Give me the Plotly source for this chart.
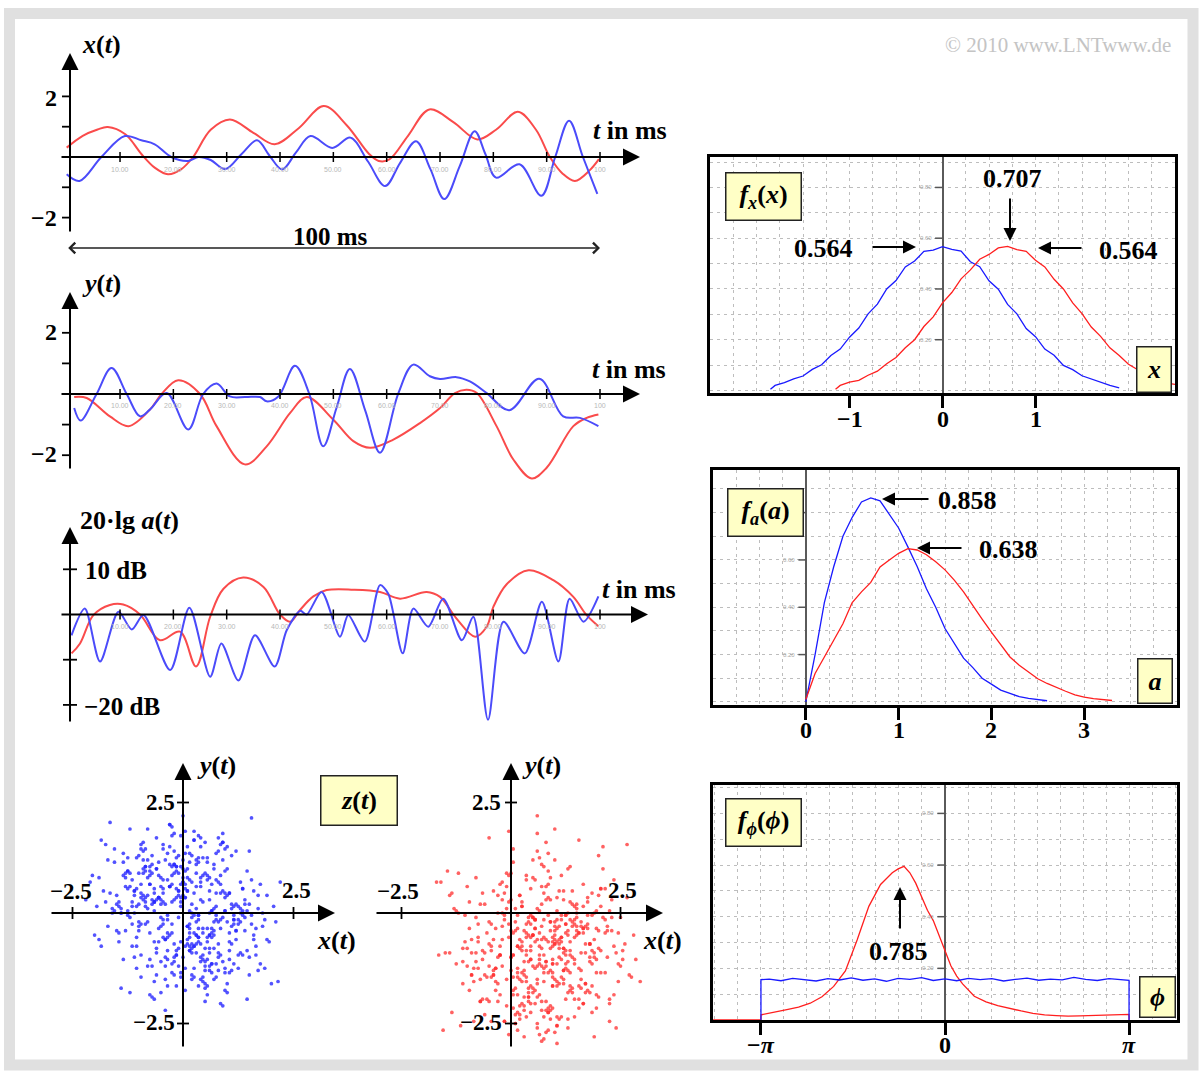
import plotly.graph_objects as go

W, H = 1202, 1072
FONT = "Liberation Serif"
BLUE_L = "rgb(75,75,250)"
RED_L = "rgb(250,75,75)"
BLUE = "rgb(25,25,255)"
RED = "rgb(255,30,30)"
GRID = "#bdbdbd"
DASH = "3px,4px"

# ---------------- data ----------------
# x(t): real part, time in ms
xt_blue_t = [0, 2.4, 6.5, 10.9, 14, 16.5, 19.6, 22.8, 24.7, 27, 29.7, 32.8, 35.7, 38, 40.4, 43, 45.7,
             49.8, 53.2, 56.5, 59.7, 62.5, 65.5, 68.2, 70.8, 73.7, 76.5, 78.5, 80.5, 84.9, 89, 91.6,
             94.2, 96.8, 99.5]
xt_blue_v = [-0.57, -0.79, 0, 0.69, 0.55, 0.42, 0, -0.13, 0, -0.1, -0.4, 0.1, 0.55, 0.05, -0.41, 0.15,
             0.69, 0.3, 0.64, -0.15, -0.96, -0.2, 0.52, -0.4, -1.39, -0.3, 0.85, 0.1, -0.68, -0.24,
             -1.28, 0, 1.2, 0, -1.22]
xt_red_t = [0, 3, 5.8, 7.7, 11, 14, 16.5, 19, 21.5, 23.7, 27, 30.6, 35, 39, 43.5, 48.2, 52.5, 56.7,
            58.5, 60.5, 64, 68, 72.5, 77, 80.5, 84.6, 88, 90.6, 93, 95.3, 98, 99.8]
xt_red_v = [0.31, 0.7, 0.91, 0.99, 0.75, 0.1, -0.35, -0.57, -0.4, 0, 0.9, 1.24, 0.8, 0.42, 0.95, 1.68,
            1.05, 0.1, -0.13, -0.08, 0.7, 1.57, 1.15, 0.58, 0.9, 1.49, 0.9, 0, -0.55, -0.79, -0.45, -0.07]

# y(t): imaginary part
yt_blue_t = [1.4, 2.6, 5.6, 8.4, 11.25, 13.75, 15.6, 18.75, 22.8, 25.6, 28.1, 30.6, 33.5, 36.25, 37.5,
             39.7, 42.8, 45.5, 48.1, 50.6, 53.1, 56, 58.75, 62.2, 65, 68.1, 70, 73.1, 75.6, 78.75, 83,
             88.6, 93.1, 96.25, 99.7]
yt_blue_v = [-0.46, -0.87, 0, 0.85, 0, -0.73, -0.51, 0.03, -1.16, 0, 0.34, -0.08, -0.1, -0.1, -0.24,
             -0.08, 0.92, 0, -1.71, -0.45, 0.82, -0.55, -1.92, 0.03, 0.96, 0.58, 0.49, 0.55, 0.41, 0.03,
             -0.53, 0.5, -0.73, -0.78, -1.05]
yt_red_t = [1.4, 3.75, 8.1, 11.6, 15.6, 17.8, 20.9, 25, 28.1, 33.4, 37.5, 41.9, 45, 50, 53.75, 56.9,
            61.25, 66.25, 70, 72.8, 75, 76.9, 80.6, 83.75, 87.2, 90, 95, 97.5, 99.7]
yt_red_v = [-0.1, -0.13, -0.73, -1.05, -0.51, 0, 0.45, 0, -1.05, -2.3, -1.71, -0.62, -0.1, -0.84, -1.54,
            -1.76, -1.49, -0.95, -0.46, 0.03, 0.14, 0.03, -1.05, -2.14, -2.76, -2.41, -1.05, -0.78, -0.67]

# 20 lg a(t) in dB
db_blue_t = [0.9, 3.4, 6.25, 9.7, 12.2, 14.4, 19.4, 23, 26.9, 29, 32.2, 35.3, 39, 41.25, 43.8, 45,
             47.8, 51.25, 52.8, 55.9, 58.75, 60.3, 63, 65, 67.8, 70.6, 74.1, 76.25, 79, 81.9, 85.9,
             89.1, 92.2, 94.3, 96.9, 99.7]
db_blue_v = [-4.6, 1.3, -10.4, 0.6, -3.3, -0.1, -12.3, 1.5, -13.75, -6.4, -14.6, -4.6, -11.5, -3.5,
             0.8, 0.0, 5.0, -4.9, -0.1, -6.0, 6.5, 4.6, -8.6, 1.3, -2.7, 3.5, -5.7, -0.5, -23.3, -1.6,
             -8.6, 2.8, -10.4, 3.5, -1.6, 4.0]
db_red_t = [0.9, 2.5, 5, 8.1, 10.6, 13.75, 17.5, 21.25, 24.25, 26.9, 29.4, 33.1, 36.9, 40, 41.9, 43.75,
            46.25, 48.75, 53.75, 58.75, 62.5, 67.5, 70, 73.1, 76.6, 78.75, 80, 82.5, 86.6, 91.25, 95,
            97.5, 99.7]
db_red_v = [-8.6, -6.4, -0.15, 2.1, 2.2, 0, -5.7, -3.8, -11.5, -0.5, 5.7, 8.2, 6.1, 0, -1.6, 1, 4.0, 5.4,
            5.5, 5.0, 3.5, 5, 3.9, -0.9, -4.9, -2.7, 1.7, 6.7, 9.8, 7.6, 3.9, -0.15, -2.6]

# scatter clouds z(t) = x(t) + j y(t)
cloud_blue_x = [
    0.3, -0.8, 1.1, -0.2, 0.6, -1.4, 0.1, 0.9, -0.5, 1.7, -1.0, 0.4, -0.1, 0.8, -0.7, 0.2, 1.3, -0.3, -1.9, 0.5,
    0.0, -0.6, 1.0, -1.2, 0.7, 0.3, -0.4, 1.5, -0.9, 0.2, -0.2, 1.2, -1.6, 0.6, -0.1, 0.9, -0.8, 0.4, 2.1, -0.5,
    0.8, -1.1, 0.1, -0.3, 1.4, -0.7, 0.5, -1.3, 0.0, 0.7, -0.4, 1.8, -0.9, 0.2, -0.6, 1.1, -0.2, 0.3, -1.5, 0.9,
    0.6, -0.1, -1.0, 1.3, 0.4, -0.8, 0.1, -2.2, 0.5, 1.0, -0.3, 0.7, -1.2, 0.2, 1.6, -0.5, -0.7, 0.8, 0.0, -1.4,
    1.2, -0.2, 0.4, -0.9, 0.6, 1.9, -0.4, -1.1, 0.3, -0.1, 0.9, -0.6, 1.4, -1.7, 0.1, 0.5, -0.3, 0.8, -0.8, 1.1,
    -0.5, 0.2, -1.3, 0.7, 1.5, -0.2, 0.4, -1.0, 0.0, 0.6, -1.8, 1.0, -0.4, 0.3, -0.7, 1.3, 0.1, -0.9, 2.0, -0.1,
    0.5, -1.2, 0.8, -0.6, 0.2, 1.7, -0.3, -1.5, 0.9, 0.4, -0.8, 0.1, 1.2, -0.2, -1.1, 0.6, -0.5, 1.4, 0.3, -2.0,
    0.7, -0.4, 0.0, 1.1, -0.9, 0.5, -1.6, 0.2, 0.8, -0.3, 1.6, -0.7, 0.4, -1.0, 0.1, 1.0, -0.1, -1.4, 0.6, 0.3,
    -0.6, 1.3, -0.2, 0.9, -1.3, 0.0, 2.2, -0.8, 0.5, -0.4, 0.2, -1.1, 1.5, -0.5, 0.7, -1.9, 0.3, 1.2, -0.2, -0.7,
    1.0, 0.1, -1.2, 0.6, -0.3, 1.8, -1.0, 0.4, -0.1, 0.8, -1.5, 0.5, 0.9, -0.6, 1.4, -0.4, 0.2, -0.9, 1.1, 0.0,
    -0.2, 0.7, -1.7, 1.3, -0.5, 0.3, -0.8, 0.6, 1.9, -1.1, 0.4, -0.3, 1.0, -1.4, 0.1, 0.8, -0.6, 1.6, -0.1, -1.0,
    0.5, 1.2, -0.7, 0.2, -1.3, 0.9, -0.4, 0.0, 1.5, -2.1, 0.3, -0.5, 1.1, -0.9, 0.7, -0.2, 1.7, -1.2, 0.4, 0.6,
    0.45, -0.25, 1.05, -0.65, 0.15, -1.15, 0.85, -0.35, 0.55, -0.95, 1.25, -0.05, -0.75, 0.35, -1.45, 0.65, 0.05, -0.55, 1.55, -0.15,
    -0.85, 0.25, 0.95, -1.25, 0.75, -0.45, 0.15, 1.35, -0.65, -0.05, 0.55, -1.05, 0.35, 1.75, -0.25, -0.85, 0.45, -1.65, 0.05, 0.95,
    -0.35, 1.15, -0.95, 0.25, 0.65, -0.15, -1.35, 0.85, -0.55, 1.45, 0.15, -0.75, 1.05, -0.25, -1.85, 0.55, 0.35, -0.45, 1.25, -1.05,
    -0.15, 0.75, -0.65, 1.65, 0.05, -1.25, 0.45, -0.35, 0.95, -0.85, 1.15, -0.55, 0.25, -1.55, 0.65, -0.05, 1.85, -0.75, 0.35, -0.25,
    -1.15, 0.85, -0.45, 0.15, 1.35, -0.95, 0.55, -0.15, -0.65, 1.05, 0.25, -1.35, 0.75, -0.35, 0.05, 1.55, -0.85, 0.45, -1.05, 0.65,
    -0.55, 0.15, 1.25, -1.75, 0.95, -0.25, 0.35, -0.75, 1.45, -0.05, 0.85, -1.25, -0.15, 0.55, -0.45, 1.15, -0.95, 0.25, 2.05, -0.65,
    -0.35, 0.65, -1.45, 0.05, 1.05, -0.85, 0.45, -0.15, -1.15, 0.75, 1.65, -0.55, 0.35, -0.25, 0.95, -1.95, 0.15, 0.85, -0.75, 1.35,
    -0.05, -1.05, 0.55, 1.15, -0.35, 0.25, -1.55, 0.65, -0.45, 0.05, 0.45, 1.45, -0.65, -1.25, 0.15, 0.75, -0.15, 1.95, -0.95, 0.35,
    -0.75, 0.95, 0.05, -0.45, 1.25, -1.35, 0.55, -0.25, 0.85, -1.65, 0.25, -0.05, 1.05, -0.85, 0.65, -1.15, 0.35, 1.55, -0.55, -0.15,
    1.35, -0.35, -0.95, 0.45, 0.05, -1.45, 0.95, -0.65, 0.15, 1.75, -1.05, 0.55, -0.25, 0.75, -1.85, 0.25, 1.15, -0.45, -0.05, 0.85,
    -0.65, 1.25, 0.35, -1.25, 0.55, -0.15, 0.95, -0.85, 1.65, -0.35, 0.15, -1.55, 0.65, 0.05, -0.75, 1.45, -0.45, 0.25, -1.05, 0.45,
    2.15, -0.25, 0.75, -0.95, 0.35, -1.35, 1.05, -0.05, -0.55, 0.85, -0.15, 0.45, -1.75, 1.35, -0.65, 0.15, 0.95, -1.15, 0.55, -0.35,
    1.15, -0.85, 0.25, -0.45, 1.85, -0.05, -1.25, 0.65, -0.75, 0.05, -0.25, 1.55, -1.45, 0.35, 0.75, -0.55, 0.15, -2.05, 1.05, -0.95]
cloud_blue_y = [
    -0.5, 1.2, 0.2, -1.1, 0.8, 0.0, -0.7, 1.6, -0.3, 0.4, 0.9, -1.5, 0.5, -0.2, 1.3, -0.9, 0.1, 2.0, -0.6, -1.2,
    0.7, 0.3, -1.8, 0.6, -0.4, 1.1, -1.0, 0.2, 0.9, -0.1, 1.4, -0.6, 0.0, -1.3, 0.5, -2.1, 0.8, 1.7, -0.2, 0.3,
    -1.0, 0.4, 1.5, -0.5, -0.1, 0.9, -1.6, 0.6, 1.0, -0.8, 0.2, -0.3, 1.2, 0.7, -1.4, 0.1, 1.8, -0.7, 0.4, -1.1,
    -0.9, 1.3, -0.4, 0.0, 0.8, -1.2, 0.5, 0.3, -1.7, 1.0, 0.6, -0.2, 1.9, -0.8, -0.5, 0.2, 1.1, -1.3, 0.7, 0.1,
    -0.4, 0.9, -1.0, 1.4, 0.3, -0.6, -1.5, 0.5, 1.2, -0.1, 1.6, -0.9, 0.2, -0.3, 1.0, -2.0, 0.6, -0.7, 0.4, 1.3,
    -1.1, 0.0, 0.8, -0.5, -1.4, 1.1, 0.3, -0.2, 2.2, -0.8, 0.5, 1.5, -0.6, 0.1, -1.2, 0.7, -0.3, 1.0, -1.6, 0.4,
    0.9, -0.1, -0.9, 1.7, 0.2, -1.3, 0.6, -0.4, 1.2, -0.7, -0.2, 0.8, 1.4, -1.0, 0.0, 0.5, -1.8, 0.3, 0.9, -0.5,
    1.1, -1.2, 0.4, -0.3, 1.6, -0.8, 0.1, -1.4, 0.7, 2.0, -0.6, 0.2, -1.1, 1.3, 0.5, -0.2, 0.9, -1.7, 0.0, 0.6,
    1.0, -0.9, 0.3, 1.8, -0.4, -1.0, 0.7, 0.1, -1.3, 1.2, -0.7, 0.5, 1.4, -0.1, -1.5, 0.8, -0.5, 0.2, 1.1, -1.9,
    0.4, -0.6, 0.9, -1.2, 1.5, 0.0, -0.3, 0.6, -0.8, 1.7, 0.2, -1.1, 0.5, 1.0, -0.4, -2.2, 1.3, 0.3, -0.7, 0.8,
    -1.4, 0.1, 1.2, -0.2, 0.6, -0.9, 1.9, -0.5, 0.4, -1.0, 0.7, 1.1, -1.6, 0.0, -0.3, 1.4, -0.8, 0.5, -1.2, 0.2,
    1.6, -0.4, 0.3, -1.5, 0.9, -0.1, -0.6, 1.2, -1.0, 0.7, -0.2, 0.8, -1.3, 0.4, 1.0, -0.7, 0.1, -1.8, 1.5, -0.5,
    0.85, -0.45, -1.35, 0.25, 1.15, -0.75, 0.45, -0.05, -1.05, 1.55, -0.25, 0.65, 1.05, -1.65, 0.15, -0.55, 1.85, -0.35, 0.75, -0.95,
    0.35, -1.25, 0.05, 0.95, -0.15, 1.45, -0.85, 0.55, -1.55, 0.25, -0.65, 1.25, -0.05, -1.15, 0.85, 0.15, -0.45, 2.05, -0.75, 0.45,
    1.35, -0.25, 0.65, -1.45, 0.05, -0.85, 1.15, -0.15, 0.35, -1.95, -0.55, 0.95, -1.05, 0.25, 1.65, -0.35, -0.65, 0.75, -1.25, 0.15,
    1.05, -0.05, 0.45, -0.95, -1.75, 0.55, 1.25, -0.45, 0.05, -0.25, -1.15, 0.35, -0.75, 1.45, 0.65, -1.35, -0.15, 0.85, -0.55, 1.75,
    0.15, -0.95, 1.55, -0.35, -0.05, 0.45, -1.65, 1.05, 0.25, -0.65, -0.45, 1.35, 0.75, -1.05, 0.35, -0.25, 0.95, -1.45, 0.55, 0.05,
    1.15, -0.75, -0.15, 0.25, -1.25, 1.95, -0.55, 0.65, -0.85, 0.35, -0.35, 0.05, 1.25, -1.85, 0.45, -0.05, -0.95, 1.65, 0.15, -0.65,
    0.75, -1.15, 0.25, 0.95, -0.45, 1.05, -1.55, 0.55, -0.25, 1.35, -0.75, 0.35, -0.05, -1.35, 1.45, 0.15, -0.85, 0.65, -1.05, 0.05,
    1.75, -0.55, 0.85, -0.15, -1.65, 0.45, 1.15, -0.35, 0.25, -1.25, -0.95, 0.05, 0.55, 1.25, -0.45, -1.45, 0.95, -0.65, 0.35, -0.15,
    0.65, -1.75, 1.35, -0.25, 0.15, 0.85, -0.55, -1.15, 1.55, 0.45, -0.05, 1.05, -0.85, 0.25, -1.35, 0.75, -0.35, 2.15, -0.65, -0.95,
    0.55, -0.15, 1.45, -1.05, 0.35, -0.45, 0.95, -1.95, 0.05, 0.65, -1.25, 1.15, -0.25, 0.45, -0.75, 1.65, 0.15, -0.55, -1.45, 0.85,
    0.25, -0.95, 1.25, -0.05, 0.75, -1.65, 0.35, 1.05, -0.35, -0.85, 1.35, 0.05, -1.15, 0.55, -0.45, 0.95, -0.15, 1.85, -0.75, 0.25,
    -1.55, 0.65, 0.15, -0.25, 1.15, -1.05, 0.45, -0.65, 0.85, -2.05, 0.35, -0.35, 1.55, -0.95, 0.05, 0.75, -1.35, 0.25, 1.25, -0.55,
    -0.15, 1.45, -0.75, 0.55, -1.25, 0.15, 0.95, -0.45, -1.85, 0.65, 1.05, -0.05, -0.65, 1.75, -1.15, 0.35, -0.25, 0.85, 0.45, -1.45]
cloud_red_x = [
    1.2, 0.1, -0.4, 1.8, 0.6, 2.3, 0.9, -0.9, 1.5, 0.3, 0.0, 1.1, 2.0, -0.2, 0.8, 1.4, -1.1, 0.5, 1.7, 0.7,
    1.9, -0.5, 0.4, 1.3, 0.2, -1.4, 1.0, 2.5, 0.6, -0.1, 0.8, 1.6, -0.7, 0.3, 1.2, 0.9, 2.1, -0.3, 0.5, 1.4,
    -0.8, 0.7, 1.8, 0.1, 1.0, -0.4, 0.6, 2.4, 1.3, -0.2, 0.4, 1.5, -1.0, 0.9, 0.2, 1.7, 0.5, -0.6, 1.1, 2.0,
    0.7, -0.1, 1.3, 0.3, 2.6, 0.8, -1.2, 1.0, 0.0, 1.6, 1.2, 0.4, -0.5, 1.9, 0.6, 1.1, -0.9, 0.2, 1.4, 0.9,
    -0.3, 2.2, 0.7, 1.0, -1.6, 0.5, 1.5, 0.1, 0.8, 1.8, 0.3, -0.7, 1.2, 2.0, 0.6, -0.2, 1.3, 0.9, -1.1, 0.4,
    1.7, 0.0, 1.0, -0.4, 2.3, 0.7, 0.2, 1.4, -0.8, 1.1, 0.5, 1.9, -0.1, 0.8, 1.2, -1.3, 0.3, 1.6, 0.6, 2.7,
    -0.6, 1.0, 0.4, 1.5, 0.1, -0.9, 1.8, 0.7, 1.3, -0.3, 2.1, 0.9, -0.5, 0.2, 1.1, 1.6, 0.5, -1.5, 0.8, 1.4,
    0.0, 1.2, 2.4, -0.2, 0.6, 1.0, -0.8, 1.7, 0.3, 0.9, 1.5, -0.4, 0.7, 2.0, -1.0, 0.4, 1.3, 0.1, 1.8, 0.6,
    -0.7, 1.1, 0.8, -0.1, 2.2, 0.5, 1.4, -1.2, 0.9, 0.2, 1.6, 0.3, -0.3, 1.0, 0.7, 2.5, -0.6, 1.2, 0.4, 1.9,
    0.1, -1.7, 0.8, 1.5, 0.5, -0.2, 1.1, 0.6, 2.1, -0.9, 1.3, 0.0, 0.9, -0.5, 1.7, 0.2, 1.0, -1.1, 0.7, 2.3,
    0.4, 1.4, -0.4, 0.8, 1.2, 0.1, -0.8, 1.6, 0.5, 2.0, -0.1, 0.9, 1.3, -1.4, 0.6, 1.8, 0.3, -0.3, 1.1, 2.8,
    0.7, -0.6, 1.5, 0.2, 1.0, -1.0, 0.4, 1.9, 0.8, -0.2, 1.2, 0.5, -0.7, 1.7, 0.0, 1.3, 2.2, -0.5, 0.6, 1.0,
    1.05, 0.35, 1.65, -0.25, 0.85, 2.15, 0.55, -0.65, 1.35, 0.15, 1.85, 0.75, -0.45, 1.15, 0.45, 2.45, 0.95, -0.05, 1.55, 0.25,
    -0.85, 1.25, 0.65, 2.05, 0.05, 1.45, 0.85, -1.25, 0.35, 1.75, 1.05, -0.35, 0.55, 1.95, 0.15, 1.35, 0.75, -0.15, 2.25, 0.95,
    0.45, 1.65, -0.55, 1.15, 0.25, 0.85, 2.55, -0.95, 1.45, 0.65, -0.05, 1.05, 1.85, 0.35, -0.75, 1.25, 0.55, 2.35, 0.95, 0.15,
    1.55, -0.25, 0.75, 1.35, -1.45, 0.45, 1.95, 0.05, 1.15, 0.85, 0.25, 2.15, -0.45, 1.05, 0.65, 1.75, -0.15, 0.35, 1.45, -1.05,
    1.25, 0.55, 2.65, 0.15, -0.65, 0.95, 1.65, 0.45, -0.35, 1.85, 0.75, 1.05, -0.85, 2.25, 0.25, 1.35, 0.05, 1.55, 0.65, -0.25,
    1.95, 0.35, 1.15, -0.55, 0.85, 2.45, 0.45, -1.15, 1.25, 0.95, -0.05, 1.75, 0.55, 1.45, -0.75, 0.15, 2.05, 0.75, 1.05, -0.35,
    1.35, 0.25, -1.35, 1.65, 0.65, 2.35, 0.05, 0.95, -0.45, 1.25, 0.45, 1.85, -0.15, 0.85, 1.15, -0.95, 0.35, 2.75, 0.55, 1.55,
    -0.65, 1.05, 0.15, 1.95, 0.75, -0.25, 1.45, 0.25, 2.15, 0.95, 1.25, -1.55, 0.65, 1.75, 0.05, 1.35, -0.05, 0.85, 2.55, 0.45,
    0.15, 1.15, -0.75, 1.65, 0.35, 2.05, 0.95, -0.35, 1.05, 0.55, 1.85, 0.25, 1.45, -1.05, 0.75, 2.25, -0.15, 1.25, 0.65, 0.05,
    -0.45, 1.55, 0.85, 2.85, 0.45, 1.15, -0.85, 0.35, 1.75, 0.95, 0.15, 1.35, -0.25, 2.35, 0.55, 1.05, 0.05, 1.95, -0.55, 0.75,
    1.65, 0.25, 1.25, -1.25, 0.85, 0.45, 2.15, -0.05, 1.45, 0.65, -0.35, 1.05, 1.85, 0.15, 2.45, 0.35, -0.95, 1.55, 0.95, 0.55,
    1.15, -0.15, 0.75, 2.05, -0.65, 1.35, 0.25, 1.75, 0.05, 1.25, 0.45, 2.65, -0.45, 0.85, 1.45, -1.65, 0.65, 1.05, 0.35, 1.95,
    -0.25, 1.15, 0.55, 2.25, 0.95, -0.75, 1.65, 0.15, 1.35, 0.75, 2.95, 0.05, 1.25, -0.05, 0.85, 1.55, -1.35, 0.45, 2.05, 1.05]
cloud_red_y = [
    -1.3, -0.2, 0.5, -1.8, -0.6, 0.3, -2.1, -0.9, 0.1, -1.4, -0.4, -2.4, -0.8, 0.7, -1.1, -0.3, -1.6, 1.2, -0.7, -2.0,
    0.0, -1.2, -0.5, -2.6, 0.4, -0.9, -1.5, -0.1, -1.9, 0.9, -0.6, -1.3, 0.2, -2.2, -0.8, -0.4, 1.5, -1.0, -1.7, -0.2,
    -1.1, 0.6, -0.7, -2.5, -0.3, -1.4, 0.1, -0.9, -1.8, 0.3, -2.0, -0.5, -1.2, 0.8, -0.6, -1.6, -0.1, -2.3, -0.8, 0.4,
    -0.3, -1.5, 1.0, -1.1, -0.7, -2.7, 0.0, -0.4, -1.3, -0.9, 0.5, -1.9, -0.2, -1.0, 1.8, -0.6, -1.4, -2.1, 0.2, -0.8,
    -1.6, -0.3, -2.9, -0.5, 0.7, -1.2, -0.1, -1.7, 0.3, -1.0, -0.4, -2.0, -0.9, 1.3, -1.5, -0.6, 0.0, -2.4, -1.1, -0.2,
    -1.8, 0.9, -0.7, -1.3, -0.4, -2.2, 0.4, -1.0, -0.1, -1.6, -0.5, -2.8, 0.6, -1.2, -0.8, 0.1, -1.9, -0.3, 2.2, -1.4,
    -0.9, -0.2, -1.7, 0.2, -2.5, -0.6, -1.1, 1.1, -0.4, -2.0, -0.1, -1.3, -0.7, -2.3, 0.5, -1.5, -0.5, -0.9, 1.6, -1.8,
    -1.0, 0.3, -2.6, -0.3, -1.2, -0.6, 0.8, -1.6, -2.1, -0.2, 0.0, -1.4, -0.8, -1.9, 0.6, -1.1, -2.4, -0.4, -0.7, 1.4,
    -1.5, -0.3, -2.0, 0.1, -1.0, -0.5, -1.7, 0.9, -2.2, -0.8, -0.2, -1.3, 0.4, -2.7, -0.6, -1.2, 0.2, -1.6, -0.1, -0.9,
    -2.3, 0.7, -1.1, -0.4, -1.8, 0.0, -0.7, -2.5, 1.0, -1.4, -0.5, -1.0, 0.3, -2.0, -0.3, -1.5, 1.9, -0.8, -1.2, -0.1,
    -1.9, 0.5, -0.6, -2.2, -1.3, 0.1, -0.9, -1.7, 0.8, -0.4, -2.1, -0.2, -1.1, 0.4, -1.6, -0.7, -2.8, 0.0, -1.0, -0.5,
    0.2, -1.4, -0.3, -2.4, 1.2, -0.8, -1.8, -0.6, 0.6, -1.2, -1.5, -0.1, -2.0, -0.9, 0.3, -1.3, -0.4, 1.7, -2.6, -0.7,
    -0.35, -1.55, 0.15, -0.95, -2.25, -0.15, -1.25, 0.45, -0.65, -1.85, -0.05, -1.35, -0.75, 0.85, -2.05, -0.45, -1.15, 0.25, -1.65, -0.85,
    -2.45, -0.25, -1.05, 0.55, -1.45, -0.55, -2.65, 0.05, -0.95, -1.75, 0.35, -1.25, -0.35, -2.15, -0.75, 1.05, -1.55, -0.15, -1.95, -0.65,
    -1.05, 0.65, -0.45, -2.35, -1.35, -0.05, -0.85, -1.75, 0.15, -1.15, -0.55, -2.55, 0.45, -1.45, -0.25, -0.95, -2.05, 0.75, -1.65, -0.35,
    -1.25, -0.75, -2.85, -0.15, 0.95, -1.05, -1.85, -0.45, -0.65, -2.25, 0.25, -1.35, -0.85, -1.55, 1.25, -0.25, -2.45, -0.55, -1.15, -0.05,
    -1.95, -0.65, 0.35, -1.45, -1.05, -2.15, -0.35, 0.55, -1.75, -0.85, -0.15, -2.35, -1.25, 0.05, -0.75, -1.65, 1.45, -0.45, -2.75, -0.95,
    -1.35, -0.25, -0.55, -1.95, 0.65, -1.15, -0.05, -2.55, -0.85, -1.45, 0.85, -0.35, -1.75, -1.05, -0.65, -2.25, 0.15, -1.25, -0.15, -1.55,
    -0.95, -2.05, 0.45, -0.45, -1.85, -0.75, 1.15, -1.35, -2.45, -0.25, -0.55, -1.65, -0.05, -2.15, -1.05, 0.25, -0.85, -1.45, -0.35, 1.65,
    -1.95, -0.65, -1.25, 0.05, -2.35, -0.95, -0.15, -1.55, 0.55, -1.15, -0.45, -2.65, -0.75, 0.35, -1.85, -1.35, -0.25, 0.95, -1.05, -2.25,
    -0.05, -1.45, -0.55, -2.05, 0.75, -0.85, -1.65, -0.35, -2.95, -0.15, -1.15, 0.15, -1.95, -0.65, -0.95, -2.45, 0.45, -1.25, -0.45, -1.75,
    -0.25, -2.15, 1.35, -1.05, -0.75, -0.05, -1.55, -2.35, 0.25, -0.55, -1.35, -0.85, 0.65, -1.85, -0.15, -2.55, -0.95, -0.35, -1.45, 1.05,
    -2.05, -0.65, -0.05, -1.15, 0.35, -1.65, -0.45, -2.75, -0.25, -0.95, -1.25, 0.05, -2.25, -0.75, -1.55, 0.85, -0.35, -1.95, -1.05, -0.15,
    -0.55, -2.45, 0.45, -1.35, -0.85, -1.75, 0.15, -0.05, -2.15, -1.15, -0.25, 1.55, -1.45, -0.65, -2.35, -0.95, 0.05, -1.65, -0.45, -1.05,
    -1.85, -0.15, 0.75, -2.05, -0.75, -1.25, -0.35, -2.65, 0.25, -0.55, -1.55, -0.95, -0.05, 1.85, -1.35, -0.45, -2.25, -0.85, 0.55, -1.15]

# PDF of x
fx_blue_x = [-1.85, -1.8, -1.7, -1.6, -1.5, -1.4, -1.3, -1.2, -1.1, -1.0, -0.9, -0.8, -0.7, -0.6, -0.5,
             -0.4, -0.3, -0.2, -0.1, 0.0, 0.1, 0.2, 0.3, 0.4, 0.5, 0.6, 0.7, 0.8, 0.9, 1.0, 1.1, 1.2,
             1.3, 1.4, 1.5, 1.6, 1.7, 1.8, 1.9]
fx_blue_f = [0.005, 0.02, 0.031, 0.046, 0.057, 0.083, 0.101, 0.138, 0.163, 0.21, 0.246, 0.302, 0.34, 0.4,
             0.433, 0.487, 0.51, 0.548, 0.553, 0.567, 0.556, 0.549, 0.507, 0.488, 0.432, 0.399, 0.339,
             0.302, 0.244, 0.212, 0.163, 0.139, 0.099, 0.082, 0.058, 0.045, 0.03, 0.02, 0.01]
fx_red_x = [-1.15, -1.1, -1.0, -0.9, -0.8, -0.7, -0.6, -0.5, -0.4, -0.3, -0.2, -0.1, 0.0, 0.1, 0.2, 0.3,
            0.4, 0.5, 0.6, 0.7, 0.8, 0.9, 1.0, 1.1, 1.2, 1.3, 1.4, 1.5, 1.6, 1.7, 1.8, 1.9, 2.0, 2.1,
            2.2, 2.3, 2.4, 2.5]
fx_red_f = [0.005, 0.02, 0.033, 0.04, 0.06, 0.076, 0.105, 0.13, 0.168, 0.2, 0.252, 0.29, 0.345, 0.386,
            0.44, 0.475, 0.517, 0.536, 0.562, 0.568, 0.555, 0.548, 0.513, 0.487, 0.438, 0.4, 0.345, 0.303,
            0.25, 0.213, 0.168, 0.138, 0.103, 0.083, 0.06, 0.045, 0.03, 0.024]

# PDF of magnitude a
fa_blue_a = [0.0, 0.1, 0.2, 0.3, 0.4, 0.5, 0.6, 0.7, 0.8, 0.9, 1.0, 1.1, 1.2, 1.3, 1.4, 1.5, 1.6, 1.7,
             1.8, 1.9, 2.0, 2.1, 2.2, 2.3, 2.4, 2.5, 2.6]
fa_blue_f = [0.0, 0.2, 0.42, 0.57, 0.7, 0.78, 0.845, 0.862, 0.85, 0.79, 0.735, 0.655, 0.572, 0.478, 0.4,
             0.31, 0.25, 0.185, 0.145, 0.1, 0.075, 0.05, 0.036, 0.022, 0.015, 0.01, 0.005]
fa_red_a = [0.0, 0.1, 0.2, 0.3, 0.4, 0.5, 0.6, 0.7, 0.8, 0.9, 1.0, 1.1, 1.2, 1.3, 1.4, 1.5, 1.6, 1.7,
            1.8, 1.9, 2.0, 2.1, 2.2, 2.3, 2.4, 2.5, 2.6, 2.7, 2.8, 2.9, 3.0, 3.1, 3.2, 3.3]
fa_red_f = [0.01, 0.12, 0.19, 0.26, 0.33, 0.42, 0.465, 0.505, 0.57, 0.6, 0.628, 0.648, 0.642, 0.622, 0.592,
            0.558, 0.515, 0.465, 0.405, 0.35, 0.295, 0.245, 0.19, 0.155, 0.125, 0.098, 0.078, 0.06,
            0.045, 0.03, 0.02, 0.014, 0.009, 0.006]

# PDF of phase phi
fp_blue_p = [-3.1416, -3.1416, -3.0, -2.8, -2.6, -2.4, -2.2, -2.0, -1.8, -1.6, -1.4, -1.2, -1.0, -0.8,
             -0.6, -0.4, -0.2, 0.0, 0.2, 0.4, 0.6, 0.8, 1.0, 1.2, 1.4, 1.6, 1.8, 2.0, 2.2, 2.4, 2.6,
             2.8, 3.0, 3.1416, 3.1416]
fp_blue_f = [0.0, 0.156, 0.158, 0.152, 0.161, 0.157, 0.151, 0.16, 0.155, 0.163, 0.154, 0.159, 0.15,
             0.161, 0.157, 0.164, 0.153, 0.159, 0.152, 0.161, 0.156, 0.16, 0.151, 0.157, 0.162, 0.154,
             0.158, 0.155, 0.165, 0.157, 0.153, 0.16, 0.156, 0.154, 0.0]
fp_red_p = [-3.96, -3.1416, -3.14, -2.9, -2.7, -2.5, -2.3, -2.1, -1.9, -1.7, -1.5, -1.3, -1.1, -0.9,
            -0.8, -0.7, -0.6, -0.5, -0.4, -0.3, -0.2, -0.1, 0.0, 0.1, 0.2, 0.3, 0.5, 0.7, 0.9, 1.1,
            1.3, 1.5, 1.7, 1.9, 2.1, 2.3, 2.5, 2.7, 2.9, 3.14, 3.1416]
fp_red_f = [0.0, 0.0, 0.02, 0.03, 0.04, 0.05, 0.065, 0.09, 0.13, 0.19, 0.31, 0.44, 0.525, 0.57, 0.585,
            0.595, 0.57, 0.53, 0.478, 0.425, 0.385, 0.325, 0.265, 0.21, 0.17, 0.14, 0.092, 0.07, 0.056,
            0.045, 0.035, 0.026, 0.02, 0.017, 0.015, 0.016, 0.017, 0.018, 0.02, 0.022, 0.0]

time_ticks = [10, 20, 30, 40, 50, 60, 70, 80, 90, 100]
time_tick_text = ["10.00", "20.00", "30.00", "40.00", "50.00", "60.00", "70.00", "80.00", "90.00", "100"]
PI = 3.14159265
fx_ticks = [-1, 0, 1]
fx_tick_text = ["−1", "0", "1"]
fa_ticks = [0, 1, 2, 3]
fa_tick_text = ["0", "1", "2", "3"]
fp_ticks = [-PI, 0, PI]
fp_tick_text = ["−<i>π</i>", "0", "<i>π</i>"]
pdf_grid_labels = ["0.20", "0.40", "0.60", "0.80"]
pdf_grid_vals = [0.2, 0.4, 0.6, 0.8]

# ---------------- geometry helpers ----------------
fig = go.Figure()
ann, shapes = [], []


def sfx(n):
    return "" if n == 1 else str(n)


P = {
    1: dict(x0=66.7, sx=5.333, y0=157.0, sy=30.3, L=30, R=700, T=30, B=265),
    2: dict(x0=66.7, sx=5.333, y0=394.0, sy=30.6, L=30, R=700, T=265, B=485),
    3: dict(x0=66.7, sx=5.333, y0=614.5, sy=4.52, L=30, R=700, T=495, B=735),
    4: dict(x0=183.0, sx=44.2, y0=913.0, sy=44.2, L=30, R=370, T=745, B=1060),
    5: dict(x0=511.0, sx=43.8, y0=913.0, sy=44.2, L=370, R=700, T=745, B=1060),
}


def dx(n, px):
    p = P[n]
    return (px - p["x0"]) / p["sx"]


def dy(n, py):
    p = P[n]
    return (p["y0"] - py) / p["sy"]


def free_axes(n):
    p = P[n]
    fig.update_layout({
        "xaxis" + sfx(n): dict(domain=[p["L"] / W, p["R"] / W], range=[dx(n, p["L"]), dx(n, p["R"])],
                               anchor="y" + sfx(n), visible=False, fixedrange=True),
        "yaxis" + sfx(n): dict(domain=[1 - p["B"] / H, 1 - p["T"] / H], range=[dy(n, p["B"]), dy(n, p["T"])],
                               anchor="x" + sfx(n), visible=False, fixedrange=True),
    })


def framed_axes(n, L, R, T, B, xr, yr, tickvals, minor_dtick):
    fig.update_layout({
        "xaxis" + sfx(n): dict(
            domain=[L / W, R / W], range=xr, anchor="y" + sfx(n), fixedrange=True,
            showline=True, linecolor="black", linewidth=3, mirror=True,
            tickmode="array", tickvals=tickvals, showticklabels=False,
            ticks="outside", ticklen=12, tickwidth=2.5, tickcolor="black",
            showgrid=True, gridcolor=GRID, griddash=DASH, gridwidth=1,
            minor=dict(tickmode="linear", tick0=0, dtick=minor_dtick, showgrid=True,
                       gridcolor=GRID, griddash=DASH, gridwidth=1, ticks=""),
            zeroline=True, zerolinecolor="#5a5a5a", zerolinewidth=1.5),
        "yaxis" + sfx(n): dict(
            domain=[1 - B / H, 1 - T / H], range=yr, anchor="x" + sfx(n), fixedrange=True,
            showline=True, linecolor="black", linewidth=3, mirror=True,
            showticklabels=False, ticks="", tickmode="linear", tick0=0, dtick=0.1,
            showgrid=True, gridcolor=GRID, griddash=DASH, gridwidth=1, zeroline=False),
    })


def line_trace(n, xs, ys, color, width, spline=False, smoothing=1.0):
    ln = dict(color=color, width=width)
    if spline:
        ln.update(shape="spline", smoothing=smoothing)
    fig.add_trace(go.Scatter(x=xs, y=ys, mode="lines", line=ln, xaxis="x" + sfx(n), yaxis="y" + sfx(n),
                             hoverinfo="skip", showlegend=False))


def text(xp, yp, s, size=26, xanchor="center", color="black", **kw):
    ann.append(dict(xref="paper", yref="paper", x=xp / W, y=1 - yp / H, text=s, showarrow=False,
                    xanchor=xanchor, yanchor="middle", font=dict(family=FONT, size=size, color=color), **kw))


def box(xp, yp, s, w, h, size=26):
    ann.append(dict(xref="paper", yref="paper", x=xp / W, y=1 - yp / H, text=s, showarrow=False,
                    xanchor="center", yanchor="middle", width=w, height=h, borderpad=2,
                    bgcolor="#ffffc6", bordercolor="#222222", borderwidth=1.5,
                    font=dict(family=FONT, size=size, color="black")))


def axis_arrow(n, x0, y0, x1, y1):
    a = sfx(n)
    ann.append(dict(xref="x" + a, yref="y" + a, axref="x" + a, ayref="y" + a, x=x1, y=y1, ax=x0, ay=y0,
                    text="", showarrow=True, arrowhead=2, arrowsize=1.7, arrowwidth=2, arrowcolor="black"))


def seg(n, x0, y0, x1, y1, w=2, color="black"):
    a = sfx(n)
    shapes.append(dict(type="line", xref="x" + a, yref="y" + a, x0=x0, y0=y0, x1=x1, y1=y1,
                       line=dict(color=color, width=w)))


def pointer(tipx, tipy, tailx, taily):
    ann.append(dict(xref="paper", yref="paper", x=tipx / W, y=1 - tipy / H, ax=tailx - tipx, ay=taily - tipy,
                    axref="pixel", ayref="pixel", text="", showarrow=True, arrowhead=2, arrowsize=1.3,
                    arrowwidth=2, arrowcolor="black"))


# ---------------- left: time signals ----------------
YAX_T = dx(1, 70)
for n in (1, 2, 3):
    free_axes(n)

line_trace(1, xt_red_t, xt_red_v, RED_L, 2, spline=True)
line_trace(1, xt_blue_t, xt_blue_v, BLUE_L, 2, spline=True)
line_trace(2, yt_red_t, yt_red_v, RED_L, 2, spline=True)
line_trace(2, yt_blue_t, yt_blue_v, BLUE_L, 2, spline=True)
line_trace(3, db_red_t, db_red_v, RED_L, 2, spline=True)
line_trace(3, db_blue_t, db_blue_v, BLUE_L, 2, spline=True, smoothing=0.8)

for n, xend, ybot, ytop in ((1, 640, 233, 53), (2, 640, 470, 292), (3, 648, 723, 527)):
    axis_arrow(n, dx(n, 60), 0, dx(n, xend), 0)
    axis_arrow(n, YAX_T, dy(n, ybot), YAX_T, dy(n, ytop))
    for t, lab in zip(time_ticks, time_tick_text):
        seg(n, t, -5 / P[n]["sy"], t, 5 / P[n]["sy"], w=1.5)
        ann.append(dict(xref="x" + sfx(n), yref="y" + sfx(n), x=t, y=0, yshift=-12, text=lab,
                        showarrow=False, font=dict(family="Liberation Sans", size=7, color="#b8b8b8")))

for n in (1, 2):
    for v in (-2, -1, 1, 2):
        seg(n, dx(n, 62), v, YAX_T, v, w=1.8)
for v in (10, -10, -20):
    seg(3, dx(3, 63), v, dx(3, 77), v, w=1.8)

text(80, 45, "<b><i>x</i>(<i>t</i>)</b>", xanchor="left")
text(59, 98, "<b>2</b>", size=24, xanchor="right")
text(59, 218, "<b>−2</b>", size=24, xanchor="right")
text(591, 130, "<b><i>t</i> in ms</b>", xanchor="left")
text(330, 236, "<b>100 ms</b>", size=25)
ann.append(dict(xref="x", yref="y", axref="x", ayref="y", x=100, y=dy(1, 248), ax=0, ay=dy(1, 248),
                text="", showarrow=True, arrowside="end+start", arrowhead=4, startarrowhead=4,
                arrowsize=1.3, startarrowsize=1.3, arrowwidth=1.6, arrowcolor="#222"))

text(80, 283, "<b><i>y</i>(<i>t</i>)</b>", xanchor="left")
text(59, 332, "<b>2</b>", size=24, xanchor="right")
text(59, 454, "<b>−2</b>", size=24, xanchor="right")
text(590, 369, "<b><i>t</i> in ms</b>", xanchor="left")

text(78, 520, "<b>20·lg <i>a</i>(<i>t</i>)</b>", xanchor="left")
text(83, 570, "<b>10 dB</b>", size=25, xanchor="left")
text(82, 706, "<b>−20 dB</b>", size=25, xanchor="left")
text(600, 589, "<b><i>t</i> in ms</b>", xanchor="left")

# ---------------- left bottom: scatter clouds ----------------
for n in (4, 5):
    free_axes(n)
fig.add_trace(go.Scatter(x=cloud_blue_x, y=cloud_blue_y, mode="markers", xaxis="x4", yaxis="y4",
                         marker=dict(color="rgb(40,40,255)", size=3.7, opacity=0.8), hoverinfo="skip",
                         showlegend=False))
fig.add_trace(go.Scatter(x=cloud_red_x, y=cloud_red_y, mode="markers", xaxis="x5", yaxis="y5",
                         marker=dict(color="rgb(255,45,45)", size=3.7, opacity=0.75), hoverinfo="skip",
                         showlegend=False))

for n, x_l, x_r in ((4, 50, 335), (5, 375, 663)):
    axis_arrow(n, dx(n, x_l), 0, dx(n, x_r), 0)
    axis_arrow(n, 0, dy(n, 1048), 0, dy(n, 763))
    hx = 6 / P[n]["sx"]
    hy = 6 / P[n]["sy"]
    for v in (-2.5, 2.5):
        seg(n, v, -hy, v, hy, w=1.8)
        seg(n, -hx, v, hx, v, w=1.8)

text(195, 765, "<b><i>y</i>(<i>t</i>)</b>", xanchor="left")
text(177, 802, "<b>2.5</b>", size=23, xanchor="right")
text(48, 891, "<b>−2.5</b>", size=23, xanchor="left")
text(280, 890, "<b>2.5</b>", size=23, xanchor="left")
text(315, 940, "<b><i>x</i>(<i>t</i>)</b>", xanchor="left")
text(177, 1022, "<b>−2.5</b>", size=23, xanchor="right")

text(520, 765, "<b><i>y</i>(<i>t</i>)</b>", xanchor="left")
text(503, 802, "<b>2.5</b>", size=23, xanchor="right")
text(375, 891, "<b>−2.5</b>", size=23, xanchor="left")
text(606, 890, "<b>2.5</b>", size=23, xanchor="left")
text(641, 940, "<b><i>x</i>(<i>t</i>)</b>", xanchor="left")
text(504, 1022, "<b>−2.5</b>", size=23, xanchor="right")

box(359, 800, "<b><i>z</i>(<i>t</i>)</b>", 71, 44)

# ---------------- right: probability density functions ----------------
framed_axes(6, 710, 1175, 157, 393, [-2.5, 2.5], [-0.01, 0.92], fx_ticks, 0.25)
framed_axes(7, 713, 1177, 470, 705, [-1.0, 4.0], [-0.013, 0.98], fa_ticks, 0.25)
framed_axes(8, 713, 1177, 785, 1020, [-3.96, 3.96], [0.0, 0.91], fp_ticks, PI / 8)

line_trace(6, fx_blue_x, fx_blue_f, BLUE, 1.3)
line_trace(6, fx_red_x, fx_red_f, RED, 1.3)
line_trace(7, fa_blue_a, fa_blue_f, BLUE, 1.3)
line_trace(7, fa_red_a, fa_red_f, RED, 1.3)
line_trace(8, fp_red_p, fp_red_f, RED, 1.3)
line_trace(8, fp_blue_p, fp_blue_f, BLUE, 1.3)

# bottom tick labels of the framed panels
for n, vals, labs, ypx in ((6, fx_ticks, fx_tick_text, 419), (7, fa_ticks, fa_tick_text, 730),
                           (8, fp_ticks, fp_tick_text, 1045)):
    for v, lab in zip(vals, labs):
        ann.append(dict(xref="x" + sfx(n), yref="paper", x=v, y=1 - ypx / H, text="<b>" + lab + "</b>",
                        showarrow=False, xanchor="center", yanchor="middle",
                        font=dict(family=FONT, size=24, color="black")))

# faint grid value labels next to the vertical zero axis (the fa 0.80 one sits under the label box)
for n, half, skip in ((6, 0.08, None), (7, 0.08, 0.8), (8, 0.13, None)):
    for v, lab in zip(pdf_grid_vals, pdf_grid_labels):
        seg(n, -half, v, 0, v, w=1.5, color="#555")
        if v == skip:
            continue
        ann.append(dict(xref="x" + sfx(n), yref="y" + sfx(n), x=-half, y=v, xanchor="right", xshift=-1,
                        text=lab, showarrow=False, font=dict(family="Liberation Sans", size=6, color="#a8a8a8")))

box(763, 196, "<b><i>f<sub>x</sub></i>(<i>x</i>)</b>", 70, 42)
box(1154, 369, "<b><i>x</i></b>", 29, 40)
box(765, 512, "<b><i>f<sub>a</sub></i>(<i>a</i>)</b>", 70, 42)
box(1155, 681, "<b><i>a</i></b>", 29, 39)
box(763, 822, "<b><i>f<sub>ϕ</sub></i>(<i>ϕ</i>)</b>", 70, 42)
box(1157, 997, "<b><i>ϕ</i></b>", 30, 35)

text(1012, 179, "<b>0.707</b>")
pointer(1010, 241, 1010, 197)
text(824, 248, "<b>0.564</b>")
pointer(916, 247, 871, 247)
text(1128, 250, "<b>0.564</b>")
pointer(1038, 248, 1083, 248)
text(968, 500, "<b>0.858</b>")
pointer(882, 499, 930, 499)
text(1008, 549, "<b>0.638</b>")
pointer(917, 548, 963, 548)
text(898, 951, "<b>0.785</b>")
pointer(900, 887, 900, 930)

text(1058, 45, "© 2010 www.LNTwww.de", size=21, color="#c4c4c4")

# outer light-grey frame
shapes.append(dict(type="rect", xref="paper", yref="paper", x0=9.5 / W, x1=1193 / W, y0=1 - 1065 / H,
                   y1=1 - 13.5 / H, line=dict(color="#e0e0e0", width=11)))

fig.update_layout(width=W, height=H, margin=dict(l=0, r=0, t=0, b=0), paper_bgcolor="white",
                  plot_bgcolor="white", showlegend=False, annotations=ann, shapes=shapes,
                  font=dict(family=FONT))
fig.write_html("out.html")
